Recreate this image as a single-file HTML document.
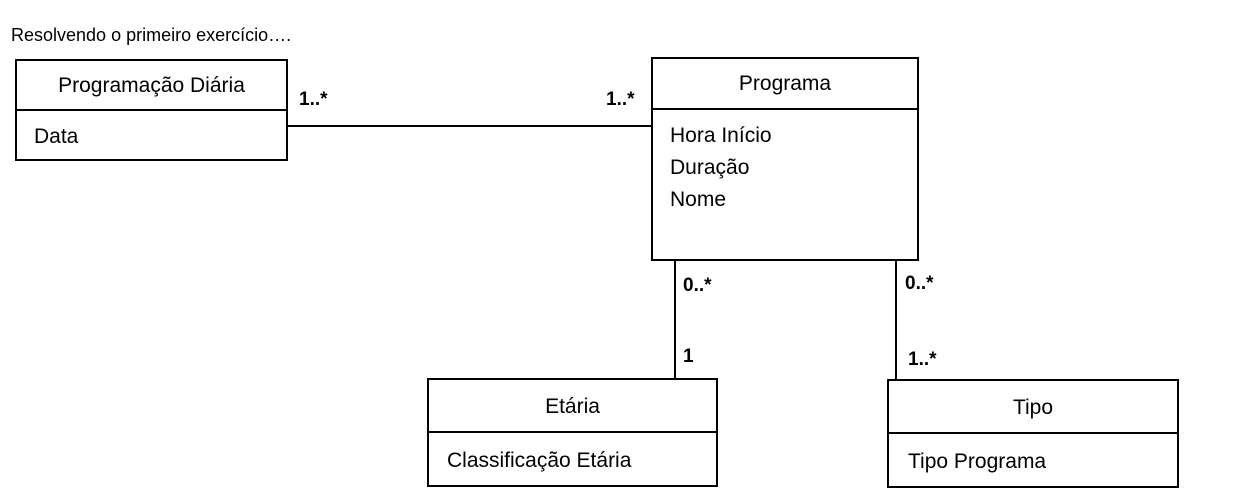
<!DOCTYPE html>
<html><head><meta charset="utf-8"><style>
body{margin:0;width:1258px;height:504px;background:#fff;position:relative;overflow:hidden;font-family:"Liberation Sans",sans-serif;color:#000}
.box{position:absolute;border:2px solid #000;box-sizing:border-box;background:#fff}
.t{position:absolute;font-size:21px;white-space:nowrap}
.l{position:absolute;font-size:19px;font-weight:bold;white-space:nowrap}
.h{position:absolute;background:#000}
</style></head><body>
<div class="t" style="left:11px;top:25px;font-size:18px">Resolvendo o primeiro exercício….</div>

<div class="h" style="left:287px;top:125px;width:364px;height:2px"></div>
<div class="h" style="left:674px;top:260px;width:2px;height:121px"></div>
<div class="h" style="left:895px;top:258px;width:2px;height:123px"></div>

<div class="box" style="left:15px;top:59px;width:273px;height:102px"></div>
<div class="h" style="left:15px;top:109px;width:273px;height:2px"></div>
<div class="t" style="left:15px;top:74px;width:273px;text-align:center">Programação Diária</div>
<div class="t" style="left:34px;top:125px">Data</div>

<div class="box" style="left:651px;top:57px;width:268px;height:204px"></div>
<div class="h" style="left:651px;top:108px;width:268px;height:2px"></div>
<div class="t" style="left:651px;top:72px;width:268px;text-align:center">Programa</div>
<div class="t" style="left:670px;top:120px;line-height:32px">Hora Início<br>Duração<br>Nome</div>

<div class="box" style="left:427px;top:378px;width:291px;height:109px"></div>
<div class="h" style="left:427px;top:431px;width:291px;height:2px"></div>
<div class="t" style="left:427px;top:395px;width:291px;text-align:center">Etária</div>
<div class="t" style="left:447px;top:449px">Classificação Etária</div>

<div class="box" style="left:887px;top:379px;width:292px;height:109px"></div>
<div class="h" style="left:887px;top:432px;width:292px;height:2px"></div>
<div class="t" style="left:887px;top:396px;width:292px;text-align:center">Tipo</div>
<div class="t" style="left:908px;top:450px">Tipo Programa</div>

<div class="l" style="left:299px;top:89px">1..*</div>
<div class="l" style="left:606px;top:89px">1..*</div>
<div class="l" style="left:683px;top:275px">0..*</div>
<div class="l" style="left:683px;top:346px">1</div>
<div class="l" style="left:905px;top:273px">0..*</div>
<div class="l" style="left:908px;top:349px">1..*</div>
</body></html>
